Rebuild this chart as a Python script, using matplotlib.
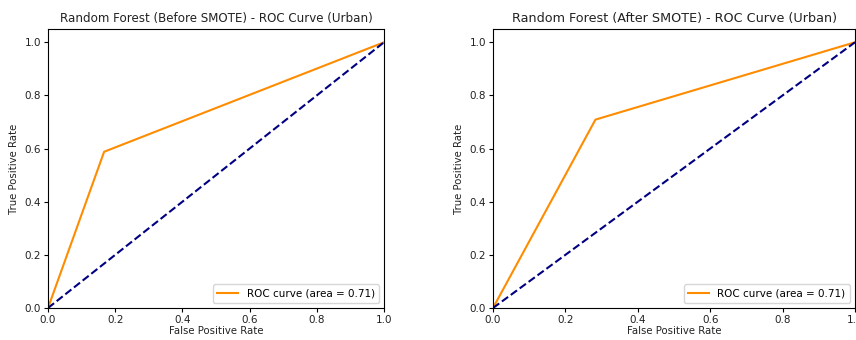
import matplotlib
matplotlib.use("Agg")
import matplotlib.pyplot as plt

# ROC points
fpr_before = [0.0, 0.167, 1.0]
tpr_before = [0.0, 0.588, 1.0]
fpr_after = [0.0, 0.283, 1.0]
tpr_after = [0.0, 0.709, 1.0]
auc_before = 0.71
auc_after = 0.71
titles = ["Random Forest (Before SMOTE) - ROC Curve (Urban)",
          "Random Forest (After SMOTE) - ROC Curve (Urban)"]

W, H = 856, 340
fig = plt.figure(figsize=(W / 100, H / 100), dpi=100)
ax1 = fig.add_axes([48 / W, 32 / H, 336 / W, 279 / H])
ax2 = fig.add_axes([493 / W, 32 / H, 362 / W, 279 / H])

# the right panel is a bit wider in the reference, so its title is a touch bigger
for ax, fpr, tpr, auc, title, tsize in [(ax1, fpr_before, tpr_before, auc_before, titles[0], 8.6),
                                        (ax2, fpr_after, tpr_after, auc_after, titles[1], 9.2)]:
    ax.plot(fpr, tpr, color='darkorange', lw=1.5, label=f'ROC curve (area = {auc:.2f})')
    ax.plot([0, 1], [0, 1], color='navy', lw=1.5, linestyle='--')
    ax.set_xlim([0.0, 1.0])
    ax.set_ylim([0.0, 1.05])
    ax.set_xlabel('False Positive Rate', fontsize=7.3, labelpad=1, color='#222222')
    ax.set_ylabel('True Positive Rate', fontsize=7.3, color='#222222')
    ax.set_title(title, fontsize=tsize, pad=5, color='#222222')
    ax.tick_params(labelsize=7.5, length=3, pad=2, labelcolor='#222222')
    ax.legend(loc='lower right', fontsize=7.5)

fig.savefig('out.png', dpi=100)
